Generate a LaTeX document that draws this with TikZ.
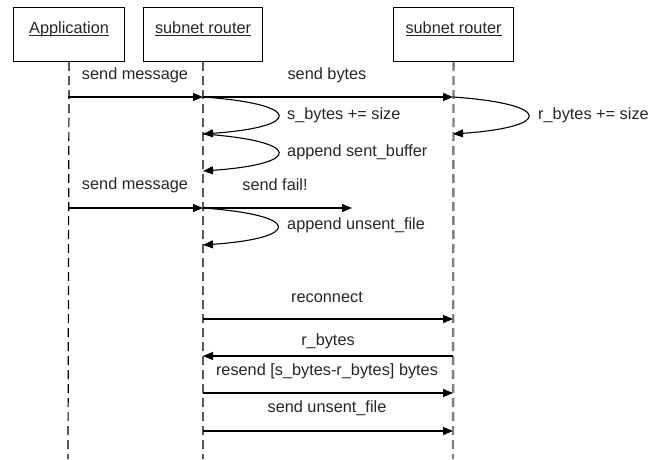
\documentclass[tikz,border=0pt]{standalone}
\usepackage{fontspec}
\setmainfont{Liberation Sans}
\usetikzlibrary{arrows.meta}
\newcommand\hdrtext[1]{\underline{\smash{#1}}}
\begin{document}
\begin{tikzpicture}[x=1pt,y=-1pt,
  every node/.style={font=\fontsize{16.3}{19}\selectfont, text=black!85, inner sep=0pt},
  actor/.style={draw, line width=1.1pt, minimum width=111pt, minimum height=54pt, anchor=north west},
  life/.style={line width=1.2pt, dash pattern=on 9pt off 5pt},
  lifegray/.style={line width=2.4pt, draw=black!50, dash pattern=on 9pt off 5pt},
  msg/.style={line width=1.1pt, -{Triangle[length=10pt,width=8pt]}},
  lbl/.style={anchor=center},
  lbll/.style={anchor=west}]
\useasboundingbox (0,0) rectangle (650,459);
% actors
\node[actor] (app) at (13,7) {\hdrtext{Application}};
\node[actor, minimum width=119pt] (r1) at (143,7) {\hdrtext{subnet router}};
\node[actor, minimum width=120pt] (r2) at (393,7) {\hdrtext{subnet router}};
% lifeline ends
\coordinate (appB) at (68,459);
\coordinate (r1B) at (203,459);
\coordinate (r2B) at (453,459);
\draw[life] (app.south) -- (appB);
\draw[life] (r1.south) -- (r1B);
\draw[lifegray] (r2.south) -- (r2B);
% points
\coordinate (a1) at (68,97);  \coordinate (b1) at (203,97); \coordinate (c1) at (453,97);
\coordinate (b2) at (203,134); \coordinate (c2) at (453,134);
\coordinate (b3) at (203,171);
\coordinate (a4) at (68,208); \coordinate (b4) at (203,208); \coordinate (f4) at (352,208);
\coordinate (b5) at (203,245);
\coordinate (b6) at (203,319); \coordinate (c6) at (453,319);
\coordinate (b7) at (203,356); \coordinate (c7) at (453,356);
\coordinate (b8) at (203,393); \coordinate (c8) at (453,393);
\coordinate (b9) at (203,431); \coordinate (c9) at (453,431);
% messages
\draw[msg] (a1) -- (b1);
\node[lbl] (l1) at (135,75) {send message};
\draw[msg] (b1) -- (c1);
\node[lbl] (l2) at (327,75) {send bytes};
\draw[msg] (b1) .. controls (303,104) and (303,127) .. (b2);
\node[lbll] (l3) at (287,115) {s\_bytes += size};
\draw[msg] (b2) .. controls (303,141) and (303,164) .. (b3);
\node[lbll] (l4) at (287,152) {append sent\_buffer};
\draw[msg] (c1) .. controls (553,104) and (553,127) .. (c2);
\node[lbll] (l5) at (538,115) {r\_bytes += size};
\draw[msg] (a4) -- (b4);
\node[lbl] (l6) at (135,185) {send message};
\draw[msg] (b4) -- (f4);
\node[lbl] (l7) at (275,185) {send fail!};
\draw[msg] (b4) .. controls (302,215) and (302,238) .. (b5);
\node[lbll] (l8) at (287,225) {append unsent\_file};
\draw[msg] (b6) -- (c6);
\node[lbl] (l9) at (327,297) {reconnect};
\draw[msg] (c7) -- (b7);
\node[lbl] (l10) at (328,341) {r\_bytes};
\draw[msg] (b8) -- (c8);
\node[lbl] (l11) at (327,371) {resend [s\_bytes-r\_bytes] bytes};
\draw[msg] (b9) -- (c9);
\node[lbl] (l12) at (327,408) {send unsent\_file};
\end{tikzpicture}
\end{document}
